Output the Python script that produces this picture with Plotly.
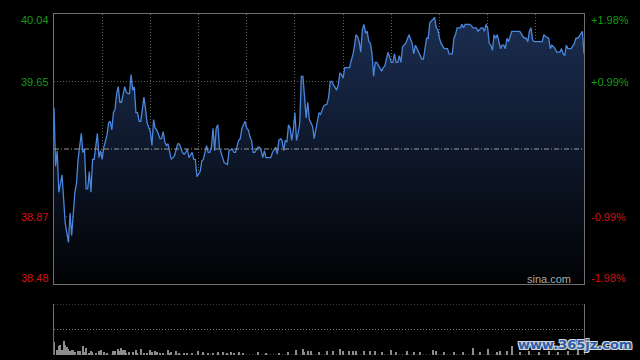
import plotly.graph_objects as go

# ---- price series (minute index within the 330-minute HK session, price) ----
minutes = [0,1,2,3,5,6,7,9,10,11,13,14,15,17,18,19,20,21,22,23,24,25,26,27,28,29,30,31,33,34,
           35,36,37,38,39,40,41,42,44,45,46,47,48,49,50,51,52,53,54,55,56,57,58,60,61,62,63,64,66,67,
           68,69,70,71,72,73,74,75,77,78,80,81,82,83,84,
           86,87,88,89,90,91,92,93,95,96,97,98,99,100,101,102,103,105,106,108,109,111,112,113,115,116,117,118,119,120,
           121,122,123,124,125,127,128,129,130,131,132,133,135,136,138,139,140,141,142,143,144,145,146,147,148,149,150,151,152,153,
           154,155,156,157,158,159,161,162,163,165,166,
           167,168,170,171,172,173,174,176,177,178,179,180,181,184,185,186,187,188,189,190,191,192,193,194,195,196,197,198,199,200,
           201,202,204,205,206,208,209,210,211,212,213,214,215,216,217,219,221,222,223,224,225,226,227,229,230,232,233,234,236,237,
           238,239,240,241,243,245,
           246,248,249,250,251,253,254,255,256,259,261,263,264,266,267,268,269,270,271,272,273,274,275,276,277,278,279,280,281,282,
           283,285,288,290,292,293,294,295,296,297,298,299,301,304,305,306,308,309,310,312,313,315,316,317,318,319,320,322,324,325,
           326,327,329,330]
prices = [39.50,39.16,39.25,39.01,39.11,38.95,38.83,38.72,38.89,38.76,39.01,39.06,39.20,39.35,39.24,39.26,39.03,39.03,39.13,39.01,
          39.20,39.20,39.27,39.35,39.21,39.25,39.20,39.27,39.34,39.41,39.42,39.37,39.47,39.49,39.58,39.62,39.53,39.53,39.62,39.59,
          39.58,39.58,39.69,39.60,39.62,39.47,39.47,39.42,39.42,39.50,39.56,39.49,39.41,39.36,39.28,39.43,39.38,39.37,39.32,39.32,
          39.36,39.30,39.28,39.29,39.25,39.20,39.21,39.22,39.29,39.29,39.24,39.23,39.24,39.26,39.21,
          39.24,39.20,39.20,39.10,39.12,39.13,39.19,39.20,39.28,39.24,39.24,39.27,39.38,39.25,39.38,39.40,39.27,39.21,39.18,39.17,
          39.25,39.26,39.24,39.24,39.31,39.32,39.38,39.40,39.42,39.38,39.37,39.33,39.31,39.24,39.24,39.27,39.27,39.25,39.21,39.25,
          39.21,39.21,39.21,39.24,39.27,39.23,39.31,39.32,39.31,39.25,39.31,39.30,39.40,39.38,39.31,39.37,39.47,39.31,39.35,39.41,
          39.68,39.68,39.55,39.44,39.53,39.43,39.39,39.32,39.37,39.47,39.46,
          39.49,39.51,39.52,39.56,39.65,39.65,39.63,39.60,39.63,39.70,39.69,39.67,39.73,39.73,39.77,39.80,39.85,39.92,39.91,39.88,
          39.82,39.95,39.98,39.93,39.94,39.88,39.87,39.81,39.68,39.76,39.76,39.74,39.71,39.73,39.74,39.82,39.79,39.76,39.76,39.81,
          39.76,39.76,39.80,39.76,39.85,39.87,39.92,39.90,39.87,39.81,39.86,39.84,39.82,39.78,39.78,39.90,39.90,39.99,40.01,40.02,
          39.96,39.95,39.90,39.87,39.84,39.84,
          39.81,39.81,39.90,39.92,39.96,39.96,39.98,39.96,39.98,39.98,39.96,39.96,39.94,39.96,39.96,39.94,39.98,39.96,39.87,39.86,
          39.83,39.92,39.90,39.92,39.88,39.84,39.86,39.86,39.84,39.90,39.88,39.94,39.94,39.94,39.91,39.90,39.90,39.88,39.94,39.96,
          39.89,39.88,39.88,39.88,39.92,39.91,39.90,39.84,39.86,39.84,39.82,39.82,39.84,39.81,39.80,39.86,39.84,39.84,39.87,39.90,
          39.90,39.91,39.94,39.81]

# ---- volume series ----
vol_minutes = [0,2,3,4,5,6,7,8,9,10,11,12,13,15,16,18,19,20,22,23,24,26,28,29,31,33,37,38,40,41,
               42,43,44,45,47,49,51,52,54,56,58,60,61,63,64,66,68,71,72,73,76,78,81,83,86,90,93,96,99,102,
               105,108,110,112,115,118,127,132,140,146,151,155,156,158,160,165,170,174,178,180,184,186,188,193,197,200,204,210,213,220,
               224,228,236,238,243,249,255,261,265,270,276,278,282,285,290,296,302,308,314,320,326]
volumes = [127,53,87,103,53,137,103,80,63,37,47,47,27,37,37,93,27,70,20,37,27,20,43,53,27,20,43,43,63,37,
           73,47,47,20,27,27,53,20,63,20,20,53,27,37,27,20,20,53,20,27,43,20,20,20,20,43,27,20,20,27,
           27,20,30,20,27,20,33,20,20,30,53,63,27,37,37,27,37,37,63,37,37,37,37,43,43,37,27,53,27,37,
           27,27,53,43,27,27,27,70,27,60,27,37,43,93,30,37,27,43,30,37,50]

# ---- axes / labels ----
prev_close = 39.26
y_min, y_max = 38.48, 40.04
session_len = 330
grid_minutes = [30, 60, 90, 120, 150, 180, 210, 240, 270, 300]
price_grid = [39.65, 38.87]
price_ticks = [40.04, 39.65, 38.87, 38.48]
price_labels = ["40.04", "39.65", "38.87", "38.48"]
pct_labels = ["+1.98%", "+0.99%", "-0.99%", "-1.98%"]
vol_max = 510
vol_grid = [0, 255, 510]

GREEN = "#159a15"
RED = "#d01212"
GRID = "#5c5c5c"
BORDER = "#6e6e6e"
DOT = "1px,2px"
FONT = "Liberation Sans, Arial, sans-serif"

fig = go.Figure()
fig.add_trace(go.Scatter(x=minutes, y=[y_min] * len(minutes), mode="lines",
                         line=dict(width=0), hoverinfo="skip", showlegend=False))
fig.add_trace(go.Scatter(x=minutes, y=prices, mode="lines",
                         line=dict(color="#4a86dc", width=1.3),
                         fill="tonexty",
                         fillgradient=dict(type="vertical", start=y_min, stop=y_max,
                                           colorscale=[[0, "#010204"], [1, "#1b2e52"]]),
                         showlegend=False))
fig.add_trace(go.Bar(x=vol_minutes, y=volumes, width=0.7,
                     marker=dict(color="#8c8c8c", line=dict(width=0)),
                     xaxis="x2", yaxis="y2", showlegend=False))

fig.add_shape(type="line", xref="x", yref="y", x0=0, x1=session_len, y0=prev_close, y1=prev_close,
              line=dict(color="#9a9a9a", width=1, dash="5px,2px,1px,2px"))

for v in vol_grid:
    fig.add_shape(type="line", xref="x2", yref="y2", x0=0, x1=session_len, y0=v, y1=v,
                  line=dict(color="#7a7a7a", width=1, dash=DOT))

shifts = [-6, 0, 0, 6]
for i, v in enumerate(price_ticks):
    col = GREEN if v > prev_close else RED
    fig.add_annotation(xref="paper", yref="y", x=0, y=v, text=price_labels[i], showarrow=False,
                       xanchor="right", yanchor="middle", xshift=-3, yshift=shifts[i],
                       font=dict(family=FONT, size=11, color=col))
    fig.add_annotation(xref="paper", yref="y", x=1, y=v, text=pct_labels[i], showarrow=False,
                       xanchor="left", yanchor="middle", xshift=5, yshift=shifts[i],
                       font=dict(family=FONT, size=11, color=col))

fig.add_annotation(xref="paper", yref="y", x=1, y=y_min, text="sina.com", showarrow=False,
                   xanchor="right", yanchor="middle", xshift=-11, yshift=5,
                   font=dict(family=FONT, size=11, color="#a8a8a8"))

fig.add_annotation(xref="paper", yref="paper", x=0.983, y=0.03, text="www.365jz.com", showarrow=False,
                   xanchor="center", yanchor="middle",
                   font=dict(family="DejaVu Sans", size=13, color="#2b5ea8", weight="bold",
                             shadow="1px 1px 0 #d8d8d8, -1px -1px 0 #d8d8d8, 1px -1px 0 #d8d8d8, -1px 1px 0 #d8d8d8"))

fig.update_layout(
    width=640, height=360,
    margin=dict(l=54, r=56, t=14, b=5),
    paper_bgcolor="#000000", plot_bgcolor="#000000",
    showlegend=False, bargap=0,
    xaxis=dict(domain=[0, 1], range=[0, session_len], anchor="y",
               tickvals=grid_minutes, showticklabels=False, ticks="",
               showgrid=True, gridcolor=GRID, griddash=DOT, gridwidth=1,
               showline=True, mirror=True, linecolor=BORDER, linewidth=1, zeroline=False),
    yaxis=dict(domain=[0.2082, 1], range=[y_min, y_max], anchor="x",
               tickvals=price_grid, showticklabels=False, ticks="",
               showgrid=True, gridcolor=GRID, griddash=DOT, gridwidth=1,
               showline=True, mirror=True, linecolor=BORDER, linewidth=1, zeroline=False),
    xaxis2=dict(domain=[0, 1], range=[0, session_len], anchor="y2",
                showticklabels=False, ticks="", showgrid=False, showline=False, zeroline=False),
    yaxis2=dict(domain=[0, 0.1496], range=[0, vol_max], anchor="x2",
                showticklabels=False, ticks="", showgrid=False,
                showline=True, mirror=True, linecolor=BORDER, linewidth=1, zeroline=False),
)

fig.write_html("out.html",
               config={"displayModeBar": False},
               post_script="document.body.style.margin='0';document.body.style.padding='0';"
                           "document.documentElement.style.background='#000';"
                           "document.body.style.background='#000';document.body.style.overflow='hidden';")
